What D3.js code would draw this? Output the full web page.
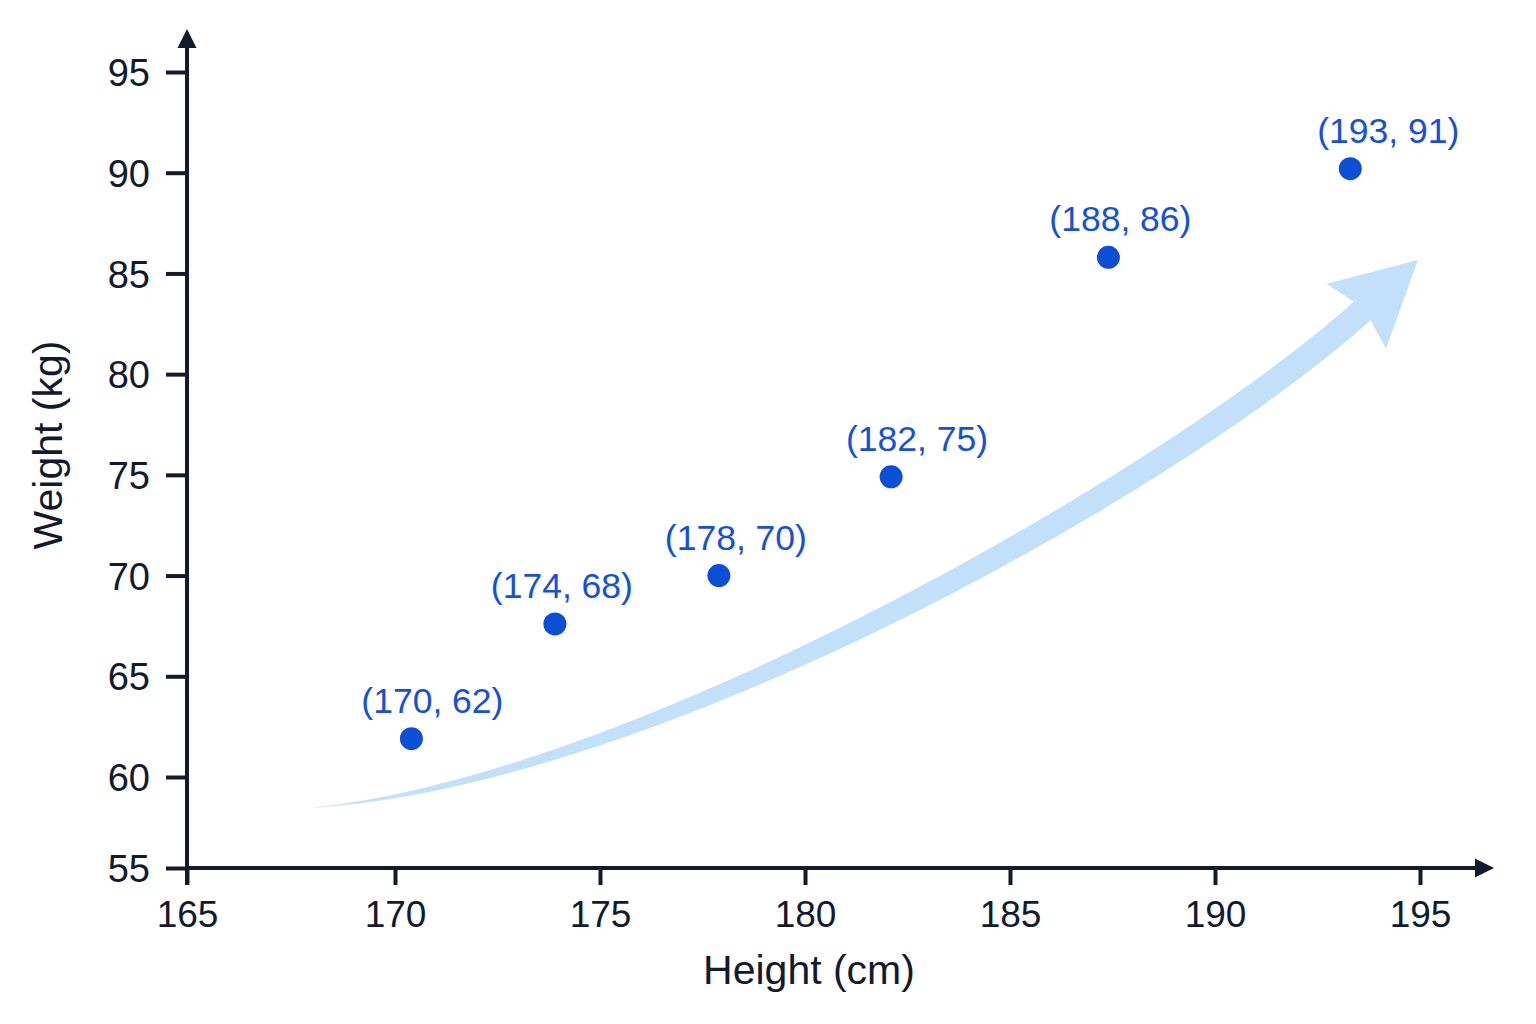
<!DOCTYPE html>
<html>
<head>
<meta charset="utf-8">
<script src="https://cdn.jsdelivr.net/npm/d3@7"></script>
<style>
  html, body { margin: 0; padding: 0; background: #fff; }
  svg { display: block; font-family: "Liberation Sans", Arial, sans-serif; }
</style>
</head>
<body>
<div id="container"></div>
<script>
// points
var heights = [170.4, 173.9, 177.9, 182.1, 187.4, 193.3];
var weights = [61.9, 67.6, 70.0, 74.9, 85.8, 90.2];
var pointLabels = ['(170, 62)', '(174, 68)', '(178, 70)', '(182, 75)', '(188, 86)', '(193, 91)'];

var xTicks = [165, 170, 175, 180, 185, 190, 195];
var yTicks = [55, 60, 65, 70, 75, 80, 85, 90, 95];

// trend arrow: cubic bezier control points in chart units, plus the tip
var trendX = [167.98, 176.22, 189.07, 193.59];
var trendY = [58.3, 59.84, 74.85, 83.14];
var trendTip = [194.95, 85.67];

// label nudges (px) so they sit like the original
var labelShift = [21, 7, 17, 26, 12, 38];

var W = 1536, H = 1024;
var ink = '#111a2e';

var svg = d3.select('#container').append('svg')
    .attr('width', W)
    .attr('height', H);

// the 55 tick sits on the x axis, so the bottom step is a bit shorter
var x = d3.scaleLinear().domain([165, 170, 195]).range([187, 395, 1420]);
var y = d3.scaleLinear().domain([55, 60, 95]).range([868, 777, 72]);

// ---- trend arrow (drawn first, sits behind everything)
var c = trendX.map((d, i) => [x(d), y(trendY[i])]);
var pth = d3.path();
pth.moveTo(c[0][0], c[0][1]);
pth.bezierCurveTo(c[1][0], c[1][1], c[2][0], c[2][1], c[3][0], c[3][1]);
var guide = svg.append('path').attr('d', pth.toString()).attr('fill', 'none');
var g = guide.node();
var len = g.getTotalLength();

var n = 160, upper = [], lower = [];
for (var i = 0; i <= n; i++) {
    var t = i / n;
    var p = g.getPointAtLength(t * len);
    var a = g.getPointAtLength(Math.max(0, t * len - 1));
    var b = g.getPointAtLength(Math.min(len, t * len + 1));
    var dx = b.x - a.x, dy = b.y - a.y, m = Math.hypot(dx, dy);
    var nx = -dy / m, ny = dx / m;
    var w = 12.5 * (1 - Math.pow(1 - t, 2.2));
    upper.push([p.x + nx * w, p.y + ny * w]);
    lower.push([p.x - nx * w, p.y - ny * w]);
}
guide.remove();

var end = c[c.length - 1];
var tip = [x(trendTip[0]), y(trendTip[1])];
var hx = tip[0] - end[0], hy = tip[1] - end[1], hm = Math.hypot(hx, hy);
hx /= hm; hy /= hm;
var px = -hy, py = hx;
var barbA = [end[0] - hx * 8 + px * 44, end[1] - hy * 8 + py * 44];
var barbB = [end[0] - hx * 8 - px * 44, end[1] - hy * 8 - py * 44];

var outline = upper.concat([barbA, tip, barbB], lower.slice().reverse());
svg.append('path')
    .attr('d', 'M' + outline.map(q => q[0].toFixed(1) + ',' + q[1].toFixed(1)).join('L') + 'Z')
    .attr('fill', '#c3e0fb');

// ---- axes
var xAxis = svg.append('g')
    .attr('transform', 'translate(0,868)')
    .call(d3.axisBottom(x).tickValues(xTicks).tickSize(17).tickPadding(0));
xAxis.select('.domain').remove();
xAxis.selectAll('line').attr('stroke', ink).attr('stroke-width', 4);
xAxis.selectAll('text')
    .attr('y', 59).attr('dy', 0)
    .attr('fill', ink)
    .style('font-size', '37px')
    .style('font-family', '"Liberation Sans", Arial, sans-serif');

var yAxis = svg.append('g')
    .attr('transform', 'translate(187,0)')
    .call(d3.axisLeft(y).tickValues(yTicks).tickSize(21).tickPadding(16));
yAxis.select('.domain').remove();
yAxis.selectAll('line').attr('stroke', ink).attr('stroke-width', 4);
yAxis.selectAll('text')
    .attr('dy', '0.36em')
    .attr('fill', ink)
    .style('font-size', '38px')
    .style('font-family', '"Liberation Sans", Arial, sans-serif');

// axis lines with arrow heads
svg.append('line')
    .attr('x1', 187).attr('y1', 885).attr('x2', 187).attr('y2', 46)
    .attr('stroke', ink).attr('stroke-width', 4);
svg.append('path')
    .attr('d', 'M187,29L177.5,48L196.5,48Z')
    .attr('fill', ink);
svg.append('line')
    .attr('x1', 185).attr('y1', 868).attr('x2', 1477).attr('y2', 868)
    .attr('stroke', ink).attr('stroke-width', 4);
svg.append('path')
    .attr('d', 'M1494,868L1475,858.5L1475,877.5Z')
    .attr('fill', ink);

// titles
svg.append('text')
    .attr('x', 809).attr('y', 984)
    .attr('text-anchor', 'middle')
    .attr('fill', ink)
    .style('font-size', '41px')
    .text('Height (cm)');

svg.append('text')
    .attr('transform', 'translate(62,445) rotate(-90)')
    .attr('text-anchor', 'middle')
    .attr('fill', ink)
    .style('font-size', '41px')
    .text('Weight (kg)');

// ---- points and labels
var pts = svg.append('g');
pts.selectAll('circle')
    .data(heights)
    .enter().append('circle')
    .attr('cx', d => x(d))
    .attr('cy', (d, i) => y(weights[i]))
    .attr('r', 11.5)
    .attr('fill', '#0b4fd6');

pts.selectAll('text')
    .data(pointLabels)
    .enter().append('text')
    .attr('x', (d, i) => x(heights[i]) + labelShift[i])
    .attr('y', (d, i) => y(weights[i]) - 26)
    .attr('text-anchor', 'middle')
    .attr('fill', '#1550d8')
    .style('font-size', '35.5px')
    .text(d => d);
</script>
</body>
</html>
